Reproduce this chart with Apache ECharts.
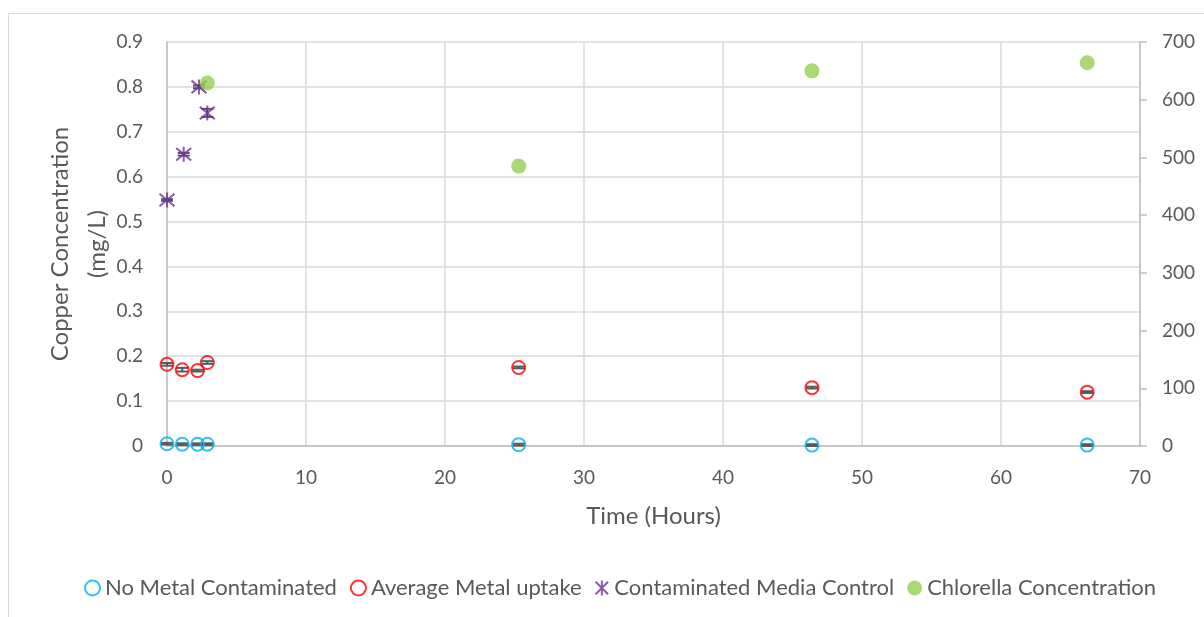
<!DOCTYPE html>
<html><head><meta charset="utf-8">
<script src="https://cdn.jsdelivr.net/npm/echarts@6/dist/echarts.min.js"></script>
<style>html,body{margin:0;padding:0;background:#fff}#c{width:1204px;height:617px}</style>
</head><body><div id="c"></div>
<script>
const noMetalX = [0, 1.1, 2.2, 2.9, 25.3, 46.4, 66.2];
const noMetalY = [0.005, 0.004, 0.004, 0.004, 0.003, 0.002, 0.002];
const noMetalErr = [0.002, 0.002, 0.002, 0.002, 0.002, 0.002, 0.002];
const avgMetalX = [0, 1.1, 2.2, 2.9, 25.3, 46.4, 66.2];
const avgMetalY = [0.182, 0.17, 0.168, 0.186, 0.175, 0.13, 0.12];
const avgMetalErr = [0.003, 0.004, 0.002, 0.003, 0.002, 0.002, 0.002];
const mediaX = [0, 1.2, 2.3, 2.9];
const mediaY = [0.548, 0.65, 0.80, 0.742];
const mediaErr = [0.002, 0.003, 0.003, 0.009];
const chlorX = [2.9, 25.3, 46.4, 66.2];
const chlorY = [629, 485, 650, 664];
const xTicks = [0, 10, 20, 30, 40, 50, 60, 70];
const leftTicks = [0, 0.1, 0.2, 0.3, 0.4, 0.5, 0.6, 0.7, 0.8, 0.9];
const rightTicks = [0, 100, 200, 300, 400, 500, 600, 700];

const names = ['No Metal Contaminated', 'Average Metal uptake', 'Contaminated Media Control', 'Chlorella Concentration'];
const txt = '#595959';
const font = 'Lato';
const star = 'path://M0,0L10,10M10,0L0,10M5,-1L5,11';

function zip(xs, ys) { return xs.map((x, i) => [x, ys[i]]); }
function errData(xs, ys, es) { return xs.map((x, i) => [x, ys[i] - es[i], ys[i] + es[i]]); }
function errSeries(xs, ys, es) {
  return {
    type: 'custom', xAxisIndex: 0, yAxisIndex: 0, silent: true, z: 3,
    data: errData(xs, ys, es),
    renderItem: function (params, api) {
      const x = api.value(0);
      const lo = api.coord([x, api.value(1)]);
      const hi = api.coord([x, api.value(2)]);
      const w = 6;
      const st = { stroke: '#595959', lineWidth: 2 };
      return { type: 'group', children: [
        { type: 'line', shape: { x1: lo[0], y1: lo[1], x2: hi[0], y2: hi[1] }, style: st },
        { type: 'line', shape: { x1: lo[0] - w, y1: lo[1], x2: lo[0] + w, y2: lo[1] }, style: st },
        { type: 'line', shape: { x1: hi[0] - w, y1: hi[1], x2: hi[0] + w, y2: hi[1] }, style: st }
      ]};
    }
  };
}

const chart = echarts.init(document.getElementById('c'));
chart.setOption({
  animation: false,
  textStyle: { fontFamily: font },
  graphic: [{ type: 'rect', shape: { x: 8.5, y: 13.5, width: 1300, height: 700 }, style: { fill: 'none', stroke: '#d9d9d9', lineWidth: 1 }, silent: true }],
  grid: { left: 167, right: 64, top: 42, bottom: 171 },
  legend: {
    bottom: 13, left: 79, itemGap: 13, itemWidth: 15, itemHeight: 15,
    textStyle: { fontSize: 22, color: txt, fontFamily: font },
    data: names.map(n => ({ name: n }))
  },
  xAxis: {
    type: 'value', min: 0, max: 70, interval: 10,
    name: 'Time (Hours)', nameLocation: 'middle', nameGap: 58,
    nameTextStyle: { fontSize: 24, color: txt, fontFamily: font },
    axisLine: { show: true, lineStyle: { color: '#bfbfbf', width: 1.5 } },
    axisTick: { show: false },
    axisLabel: { fontSize: 19, color: txt, margin: 22, fontFamily: font },
    splitLine: { show: true, lineStyle: { color: '#d9d9d9', width: 1.5 } }
  },
  yAxis: [{
    type: 'value', min: 0, max: 0.9, interval: 0.1,
    name: 'Copper Concentration\n(mg/L)', nameLocation: 'middle', nameGap: 51, nameRotate: 90,
    nameMoveOverlap: false,
    nameTextStyle: { fontSize: 24, color: txt, fontFamily: font, lineHeight: 37 },
    axisLine: { show: true, lineStyle: { color: '#bfbfbf', width: 1.5 } },
    axisTick: { show: false },
    axisLabel: { fontSize: 19, color: txt, margin: 24, fontFamily: font, formatter: v => String(+v.toFixed(1)) },
    splitLine: { show: true, lineStyle: { color: '#d9d9d9', width: 1.5 } }
  }, {
    type: 'value', min: 0, max: 700, interval: 100, position: 'right',
    axisLine: { show: true, lineStyle: { color: '#bfbfbf', width: 1.5 } },
    axisTick: { show: true, length: 7, lineStyle: { color: '#bfbfbf', width: 1.5 } },
    axisLabel: { fontSize: 19, color: txt, margin: 22, fontFamily: font },
    splitLine: { show: false }
  }],
  series: [
    errSeries(noMetalX, noMetalY, noMetalErr),
    errSeries(avgMetalX, avgMetalY, avgMetalErr),
    errSeries(mediaX, mediaY, mediaErr),
    { name: names[0], type: 'scatter', yAxisIndex: 0, data: zip(noMetalX, noMetalY), symbol: 'circle', symbolSize: 13, z: 4,
      itemStyle: { color: 'rgba(0,0,0,0)', borderColor: '#00b0f0', borderWidth: 2 } },
    { name: names[1], type: 'scatter', yAxisIndex: 0, data: zip(avgMetalX, avgMetalY), symbol: 'circle', symbolSize: 13, z: 4,
      itemStyle: { color: 'rgba(0,0,0,0)', borderColor: '#ff0000', borderWidth: 2 } },
    { name: names[2], type: 'scatter', yAxisIndex: 0, data: zip(mediaX, mediaY), symbol: star, symbolSize: 15, z: 4,
      itemStyle: { color: 'rgba(0,0,0,0)', borderColor: '#7030a0', borderWidth: 2 } },
    { name: names[3], type: 'scatter', yAxisIndex: 1, data: zip(chlorX, chlorY), symbol: 'circle', symbolSize: 15, z: 5,
      itemStyle: { color: '#92d050' } }
  ]
});
</script></body></html>
